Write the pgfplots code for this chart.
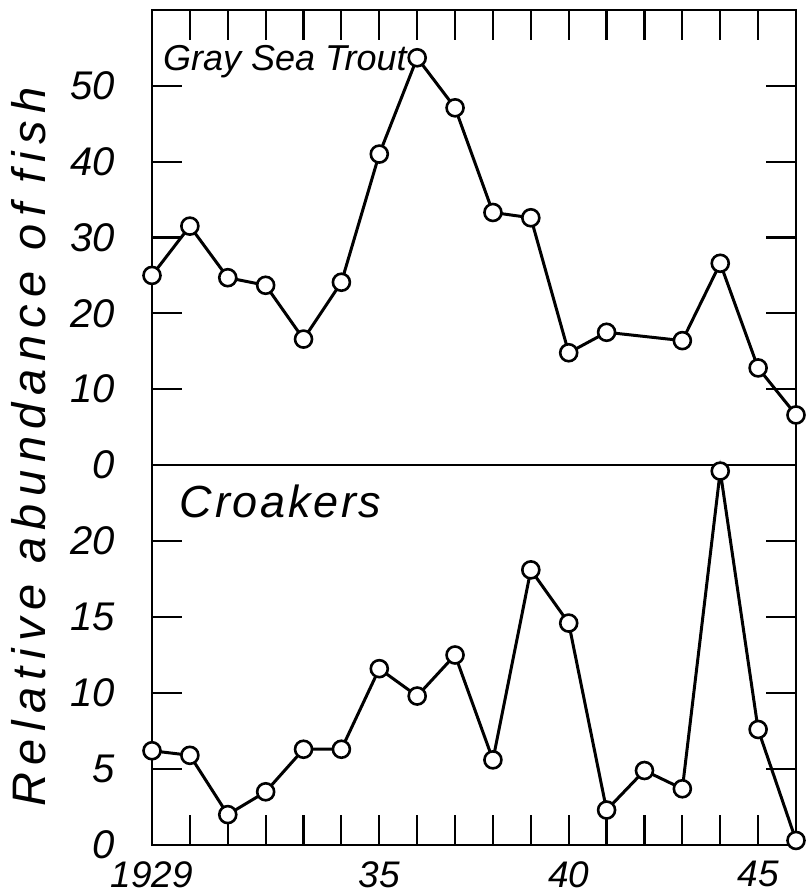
\documentclass[border=0pt]{standalone}
\usepackage{fontspec}
\setmainfont{Liberation Sans}
\newfontfamily\spacedfont[LetterSpace=16]{Liberation Sans}
\newfontfamily\lightspaced[LetterSpace=6]{Liberation Sans}
\usepackage{pgfplots}
\pgfplotsset{compat=1.18}
\begin{document}
\begin{tikzpicture}[x=1pt,y=1pt]
\pgfplotsset{
  panel/.style={
    scale only axis, width=644pt, xmin=1929, xmax=1946, clip=false,
    axis line style={line width=2.4pt},
    tick align=inside, major tick length=30pt,
    every tick/.style={line width=2.2pt, black},
    xtick={1929,...,1946},
    /pgf/number format/assume math mode=true,
    ticklabel style={font=\fontsize{40}{40}\selectfont\itshape, inner sep=0pt},
    yticklabel style={xshift=-37pt},
  },
  series/.style={black, line width=3pt, mark=*, mark size=8.5pt,
    mark options={fill=white, draw=black, line width=2.6pt}},
}
\begin{axis}[panel, at={(152pt,429pt)}, anchor=south west, height=455pt,
  ymin=0, ymax=60, ytick={0,10,...,50}, ytick pos=both,
  xtick pos=top, xticklabels={}]
\addplot[series] coordinates {
 (1929,25.0) (1930,31.5) (1931,24.7) (1932,23.7) (1933,16.6) (1934,24.1)
 (1935,41.0) (1936,53.7) (1937,47.1) (1938,33.3) (1939,32.6) (1940,14.8)
 (1941,17.5) (1943,16.4) (1944,26.6) (1945,12.8) (1946,6.6)};
\node[anchor=base west, inner sep=0pt, font=\fontsize{36}{36}\selectfont\itshape]
  at (rel axis cs:0.017,0.868) {Gray Sea Trout};
\end{axis}
\begin{axis}[panel, at={(152pt,49pt)}, anchor=south west, height=380pt,
  ymin=0, ymax=25, ytick={0,5,...,20}, ytick pos=both,
  xtick pos=bottom, xticklabels={1929,,,,,,35,,,,,40,,,,,45,},
  xticklabel style={yshift=-16pt, font=\fontsize{37}{37}\selectfont\itshape}]
\addplot[series] coordinates {
 (1929,6.2) (1930,5.9) (1931,2.0) (1932,3.5) (1933,6.3) (1934,6.3)
 (1935,11.6) (1936,9.8) (1937,12.5) (1938,5.6) (1939,18.1) (1940,14.6)
 (1941,2.3) (1942,4.9) (1943,3.7) (1944,24.6) (1945,7.6) (1946,0.3)};
\node[anchor=base west, inner sep=0pt, font=\lightspaced\fontsize{45}{45}\itshape\selectfont]
  at (rel axis cs:0.043,0.863) {Croakers};
\end{axis}
\node[rotate=90, anchor=base, inner sep=0pt,
  font=\spacedfont\fontsize{47}{47}\itshape\selectfont]
  at (45pt,447pt) {Relative abundance of fish};
\pgfresetboundingbox
\useasboundingbox (0pt,0pt) rectangle (808pt,894pt);
\end{tikzpicture}
\end{document}
